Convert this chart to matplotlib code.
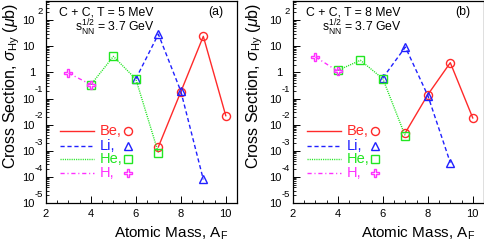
import numpy as np
import matplotlib
matplotlib.use("Agg")
import matplotlib.pyplot as plt
from matplotlib.lines import Line2D
from matplotlib.ticker import MultipleLocator, LogLocator, NullFormatter
from matplotlib.transforms import blended_transform_factory, offset_copy

plt.rcParams['font.family'] = ['Liberation Sans', 'DejaVu Sans']
plt.rcParams['mathtext.fontset'] = 'custom'
plt.rcParams['mathtext.rm'] = 'Liberation Sans'
plt.rcParams['mathtext.it'] = 'Liberation Sans:italic'

# data (cross sections in microbarn)
mass_be = [7, 8, 9, 10]
mass_li = [6, 7, 8, 9]
mass_he = [4, 5, 6, 7]
mass_h = [3, 4]

be_a = [1.4e-3, 0.18, 24, 0.022]
li_a = [0.57, 29, 0.19, 8e-5]
he_a = [0.34, 4.1, 0.55, 8.4e-4]
h_a = [0.94, 0.34]

be_b = [4.9e-3, 0.14, 2.35, 0.018]
li_b = [0.62, 9.3, 0.13, 3.5e-4]
he_b = [1.2, 2.9, 0.57, 3.6e-3]
h_b = [3.9, 1.1]

temps = ["5", "8"]
panel_tags = ["(a)", "(b)"]
species = ["Be,", "Li,", "He,", "H,"]
decades = [-5, -4, -3, -2, -1, 0, 1, 2]

RED = '#ff2a2a'
BLUE = '#2020ff'
GREEN = '#22e622'
MAG = '#ff30ff'

styles = [
    dict(color=RED, ls='-', marker='o'),
    dict(color=BLUE, ls=(0, (3, 2)), marker='^'),
    dict(color=GREEN, ls=(0, (0.8, 0.8)), marker='s'),
    dict(color=MAG, ls=(0, (3, 2, 0.8, 2)), marker='P'),
]

fig = plt.figure(figsize=(4.85, 2.42), dpi=100)
W, H = 485.0, 242.0
ax_a = fig.add_axes([46 / W, (H - 203) / H, 191 / W, 202 / H])
ax_b = fig.add_axes([293 / W, (H - 203) / H, 191 / W, 202 / H])


def draw_panel(ax, series, temp, tag, ylab_x):
    masses = [mass_be, mass_li, mass_he, mass_h]
    for st, m, vals in zip(styles, masses, series):
        ax.plot(m, vals, color=st['color'], ls=st['ls'], lw=1.0,
                marker=st['marker'], ms=5.8, mfc='none', mew=1.0)

    ax.set_yscale('log')
    ax.set_xlim(2, 10.5)
    ax.set_ylim(1e-5, 5.4e2)

    ax.xaxis.set_major_locator(MultipleLocator(2))
    ax.xaxis.set_minor_locator(MultipleLocator(0.5))
    ax.set_yticks([10.0 ** d for d in decades])
    labels = []
    for d in decades:
        labels.append("1" if d == 0 else "10")
    ax.set_yticklabels(labels)
    ax.yaxis.set_minor_locator(LogLocator(base=10, subs=np.arange(2, 10)))
    ax.yaxis.set_minor_formatter(NullFormatter())

    ax.tick_params(which='both', direction='in', top=False, right=False,
                   labelsize=8)
    ax.tick_params(which='major', length=5, width=0.7)
    ax.tick_params(which='minor', length=2.5, width=0.6)
    ax.tick_params(axis='y', pad=8)
    ax.tick_params(axis='x', pad=4)
    for sp in ax.spines.values():
        sp.set_linewidth(0.9)

    # exponents written like ROOT, above and right of the "10"
    tr = offset_copy(blended_transform_factory(ax.transAxes, ax.transData),
                     fig=fig, x=-2.3, y=6.3, units='points')
    for d in decades:
        if d in (0, 1):
            continue
        ax.text(0, 10.0 ** d, str(d), transform=tr, ha='right', va='center',
                fontsize=6.8)

    ax.text(0.07, 0.945, "C + C, T = %s MeV" % temp, transform=ax.transAxes,
            fontsize=8.8, ha='left', va='center')
    ax.text(0.15, 0.865, r"$\mathrm{s}_{\mathrm{NN}}^{1/2}$ = 3.7 GeV",
            transform=ax.transAxes, fontsize=8.8, ha='left', va='center')
    ax.text(0.89, 0.945, tag, transform=ax.transAxes, fontsize=8.8,
            ha='center', va='center')

    # legend: line, coloured name, then the marker
    ys = [0.356, 0.284, 0.216, 0.147]
    for st, name, y in zip(styles, species, ys):
        ax.add_line(Line2D([0.073, 0.25], [y, y], transform=ax.transAxes,
                           color=st['color'], ls=st['ls'], lw=1.0))
        ax.text(0.283, y, name, transform=ax.transAxes, color=st['color'],
                fontsize=10.5, ha='left', va='center')
        ax.add_line(Line2D([0.43], [y], transform=ax.transAxes,
                           color=st['color'], marker=st['marker'], ms=5.8,
                           mfc='none', mew=1.0, ls='none'))

    ax.text(0.955, -0.15, r"Atomic Mass, A$_{\mathrm{F}}$",
            transform=ax.transAxes, fontsize=11, ha='right', va='center')
    ax.text(ylab_x, 0.99, r"Cross Section, $\sigma_{\mathrm{Hy}}$ ($\mu$b)",
            transform=ax.transAxes, fontsize=11.5, ha='center', va='top',
            rotation=90)


draw_panel(ax_a, [be_a, li_a, he_a, h_a], temps[0], panel_tags[0], -0.178)
draw_panel(ax_b, [be_b, li_b, he_b, h_b], temps[1], panel_tags[1], -0.2)

fig.savefig("out.png", dpi=100)
